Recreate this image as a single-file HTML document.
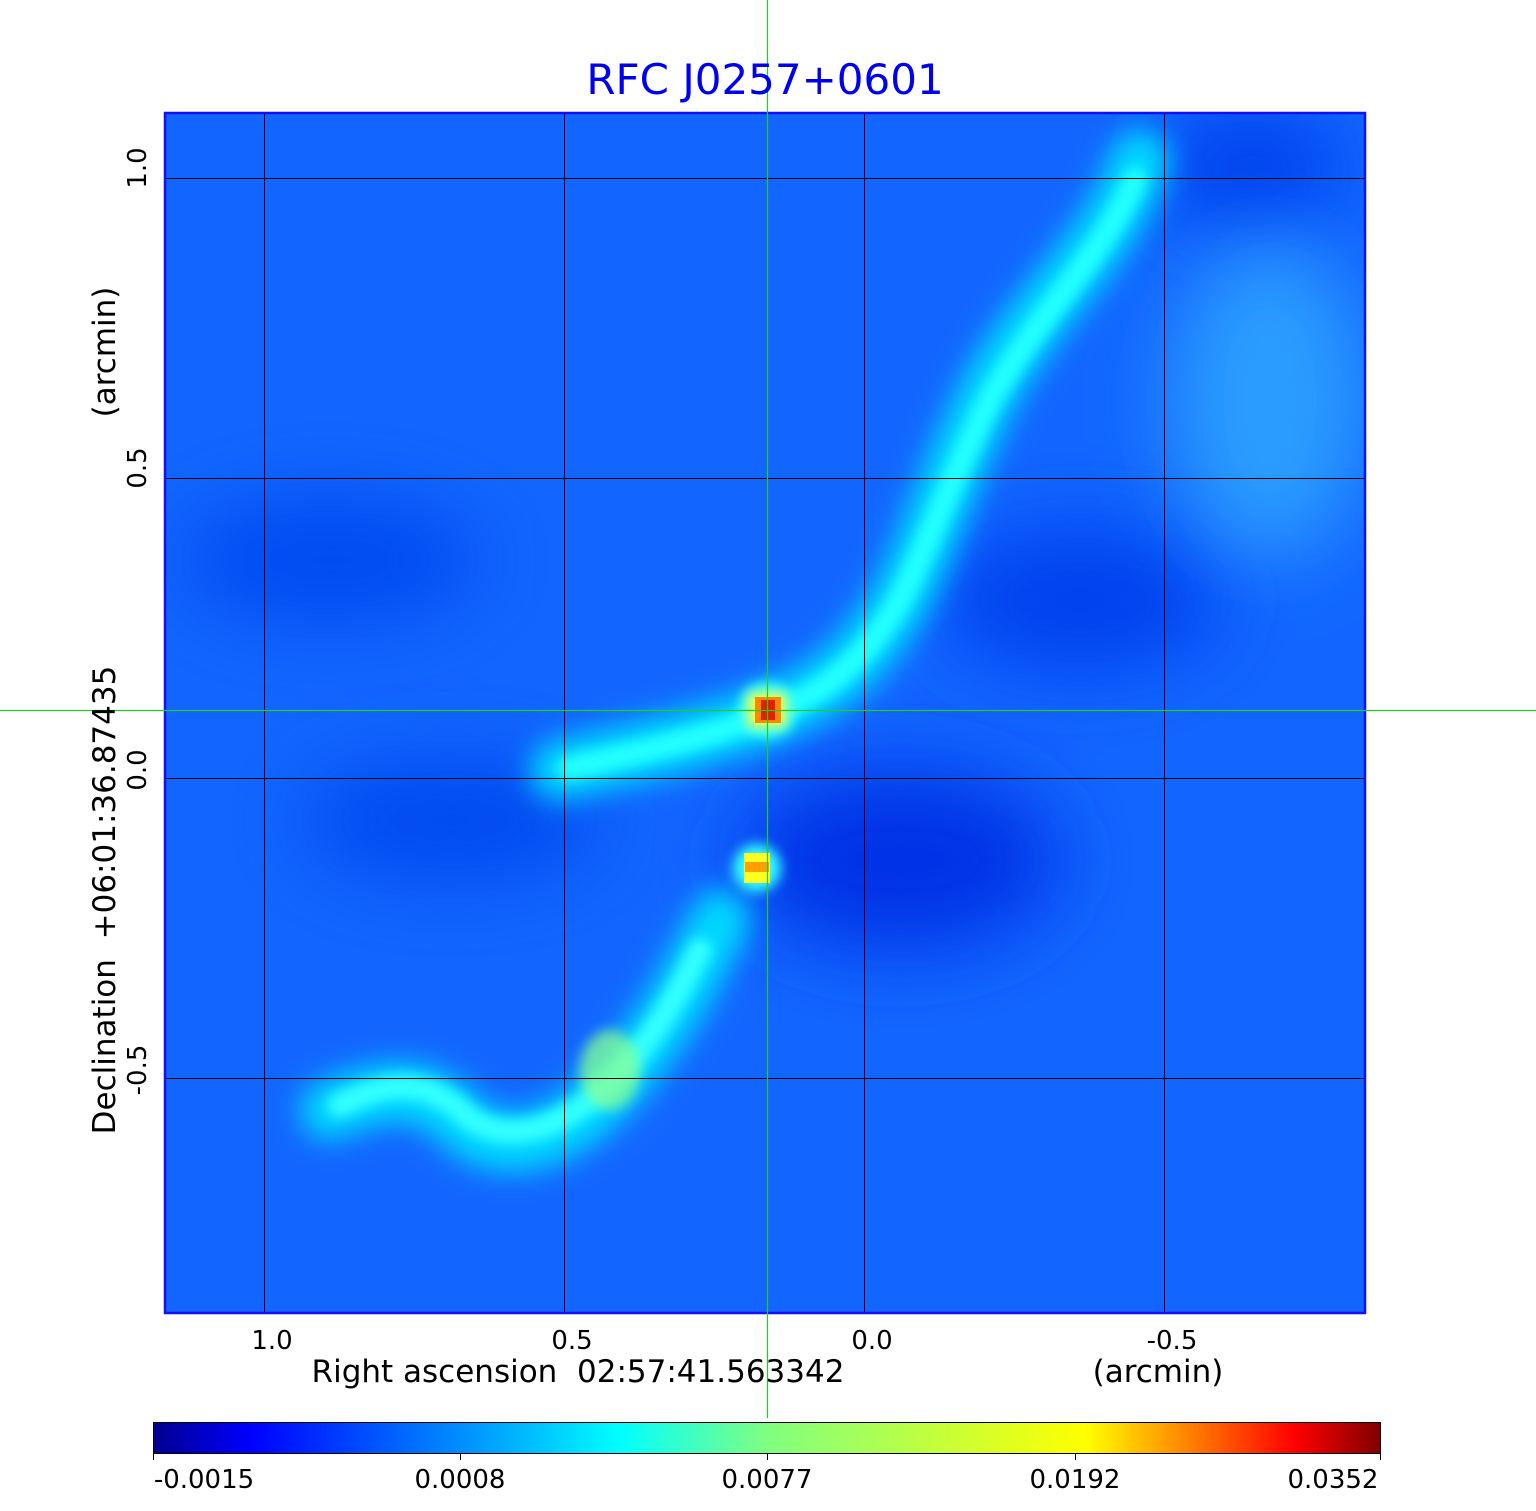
<!DOCTYPE html>
<html><head><meta charset="utf-8"><style>
body{margin:0;background:#fff;width:1536px;height:1511px;overflow:hidden;font-family:"DejaVu Sans","Liberation Sans",sans-serif}
</style></head><body>
<svg width="1536" height="1511" xmlns="http://www.w3.org/2000/svg" style="position:absolute;left:0;top:0">
<defs>
<filter id="b1" filterUnits="userSpaceOnUse" x="0" y="0" width="1536" height="1511"><feGaussianBlur stdDeviation="14"/></filter>
<filter id="b2" filterUnits="userSpaceOnUse" x="0" y="0" width="1536" height="1511"><feGaussianBlur stdDeviation="6"/></filter>
<filter id="b3" filterUnits="userSpaceOnUse" x="0" y="0" width="1536" height="1511"><feGaussianBlur stdDeviation="40"/></filter>
<clipPath id="c"><rect x="165" y="113" width="1200" height="1200"/></clipPath>
<linearGradient id="cb" x1="0" x2="1">
<stop offset="0" stop-color="#00008f"/>
<stop offset="0.08" stop-color="#0000ff"/>
<stop offset="0.31" stop-color="#00c0ff"/>
<stop offset="0.38" stop-color="#00ffff"/>
<stop offset="0.5" stop-color="#80ff80"/>
<stop offset="0.76" stop-color="#ffff00"/>
<stop offset="0.93" stop-color="#ff0000"/>
<stop offset="1" stop-color="#800000"/>
</linearGradient>
</defs>
<rect x="165" y="113" width="1200" height="1200" fill="#1266ff"/>
<g clip-path="url(#c)">
<ellipse cx="900" cy="860" rx="160" ry="90" fill="#0033e6" filter="url(#b3)"/>
<ellipse cx="1080" cy="600" rx="140" ry="70" fill="#0040ee" filter="url(#b3)"/>
<ellipse cx="1250" cy="170" rx="90" ry="60" fill="#0040ee" filter="url(#b3)"/>
<ellipse cx="330" cy="560" rx="150" ry="60" fill="#0048ee" filter="url(#b3)"/>
<ellipse cx="450" cy="820" rx="150" ry="60" fill="#0048ee" filter="url(#b3)"/>
<ellipse cx="1270" cy="400" rx="100" ry="160" fill="#2a9cff" filter="url(#b3)"/>
<path d="M1140 160 C1110 250 1040 300 990 390 C950 470 930 540 900 600 C870 650 840 680 800 700 C740 730 650 750 560 770" stroke="#00d8ff" stroke-width="60" fill="none" stroke-linecap="round" filter="url(#b1)"/>
<path d="M1135 180 C1100 260 1040 310 990 400 C955 470 930 540 900 600 C870 650 840 680 800 700 C740 730 650 750 570 768" stroke="#20ffff" stroke-width="24" fill="none" stroke-linecap="round" filter="url(#b2)"/>
<path d="M720 920 C690 980 660 1040 600 1100 C560 1140 500 1160 460 1120 C420 1080 380 1090 330 1110" stroke="#00d8ff" stroke-width="60" fill="none" stroke-linecap="round" filter="url(#b1)"/>
<path d="M700 950 C670 1010 640 1060 590 1100 C540 1140 490 1140 460 1110 C420 1075 380 1085 340 1105" stroke="#30ffff" stroke-width="24" fill="none" stroke-linecap="round" filter="url(#b2)"/>
<ellipse cx="610" cy="1070" rx="30" ry="40" fill="#90ff90" filter="url(#b2)" opacity="0.7"/>
<circle cx="767" cy="710" r="28" fill="#30ffff" filter="url(#b2)"/>
<rect x="748" y="693" width="38" height="34" fill="#ffff40" filter="url(#b2)"/>
<rect x="755" y="697" width="26" height="26" fill="#ff8800"/>
<rect x="761" y="700" width="14" height="20" fill="#e02000"/>
<circle cx="757" cy="868" r="24" fill="#30ffff" filter="url(#b2)"/>
<rect x="744" y="853" width="26" height="30" fill="#ffff20"/>
<rect x="745" y="862" width="24" height="10" fill="#ffa000"/>
<g stroke="#000" stroke-width="1">
<line x1="264.5" y1="113" x2="264.5" y2="1313"/><line x1="564.5" y1="113" x2="564.5" y2="1313"/>
<line x1="864.5" y1="113" x2="864.5" y2="1313"/><line x1="1164.5" y1="113" x2="1164.5" y2="1313"/>
<line x1="165" y1="178.5" x2="1365" y2="178.5"/><line x1="165" y1="478.5" x2="1365" y2="478.5"/>
<line x1="165" y1="778.5" x2="1365" y2="778.5"/><line x1="165" y1="1078.5" x2="1365" y2="1078.5"/>
</g>
</g>
<rect x="165" y="113" width="1200" height="1200" fill="none" stroke="#1010ff" stroke-width="2.5"/>
<line x1="767.5" y1="0" x2="767.5" y2="1418" stroke="#22cc22" stroke-width="1.2"/>
<line x1="0" y1="710.5" x2="1536" y2="710.5" stroke="#22cc22" stroke-width="1.2"/>
<text x="765" y="94" font-size="42" fill="#0000ee" text-anchor="middle">RFC J0257+0601</text>
<g font-size="26" fill="#000" text-anchor="middle">
<text x="272" y="1349">1.0</text><text x="572" y="1349">0.5</text><text x="872" y="1349">0.0</text><text x="1172" y="1349">-0.5</text>
<text x="578" y="1382" font-size="31">Right ascension&#160; 02:57:41.563342</text>
<text x="1158" y="1382" font-size="31">(arcmin)</text>
<g transform="translate(146,168) rotate(-90)"><text>1.0</text></g>
<g transform="translate(146,468) rotate(-90)"><text>0.5</text></g>
<g transform="translate(146,770) rotate(-90)"><text>0.0</text></g>
<g transform="translate(146,1070) rotate(-90)"><text>-0.5</text></g>
<g transform="translate(115,352) rotate(-90)"><text font-size="31">(arcmin)</text></g>
<g transform="translate(115,900) rotate(-90)"><text font-size="31">Declination&#160; +06:01:36.87435</text></g>
</g>
<rect x="153.5" y="1422.5" width="1227" height="31" fill="url(#cb)" stroke="#000" stroke-width="1"/>
<g stroke="#000"><line x1="153.5" y1="1453" x2="153.5" y2="1460"/><line x1="460.5" y1="1453" x2="460.5" y2="1460"/><line x1="767.5" y1="1453" x2="767.5" y2="1460"/><line x1="1075.5" y1="1453" x2="1075.5" y2="1460"/><line x1="1380.5" y1="1453" x2="1380.5" y2="1460"/></g>
<g font-size="26" fill="#000" text-anchor="middle">
<text x="204" y="1488">-0.0015</text><text x="460" y="1488">0.0008</text><text x="767" y="1488">0.0077</text><text x="1075" y="1488">0.0192</text><text x="1333" y="1488">0.0352</text>
</g>
</svg>
</body></html>
